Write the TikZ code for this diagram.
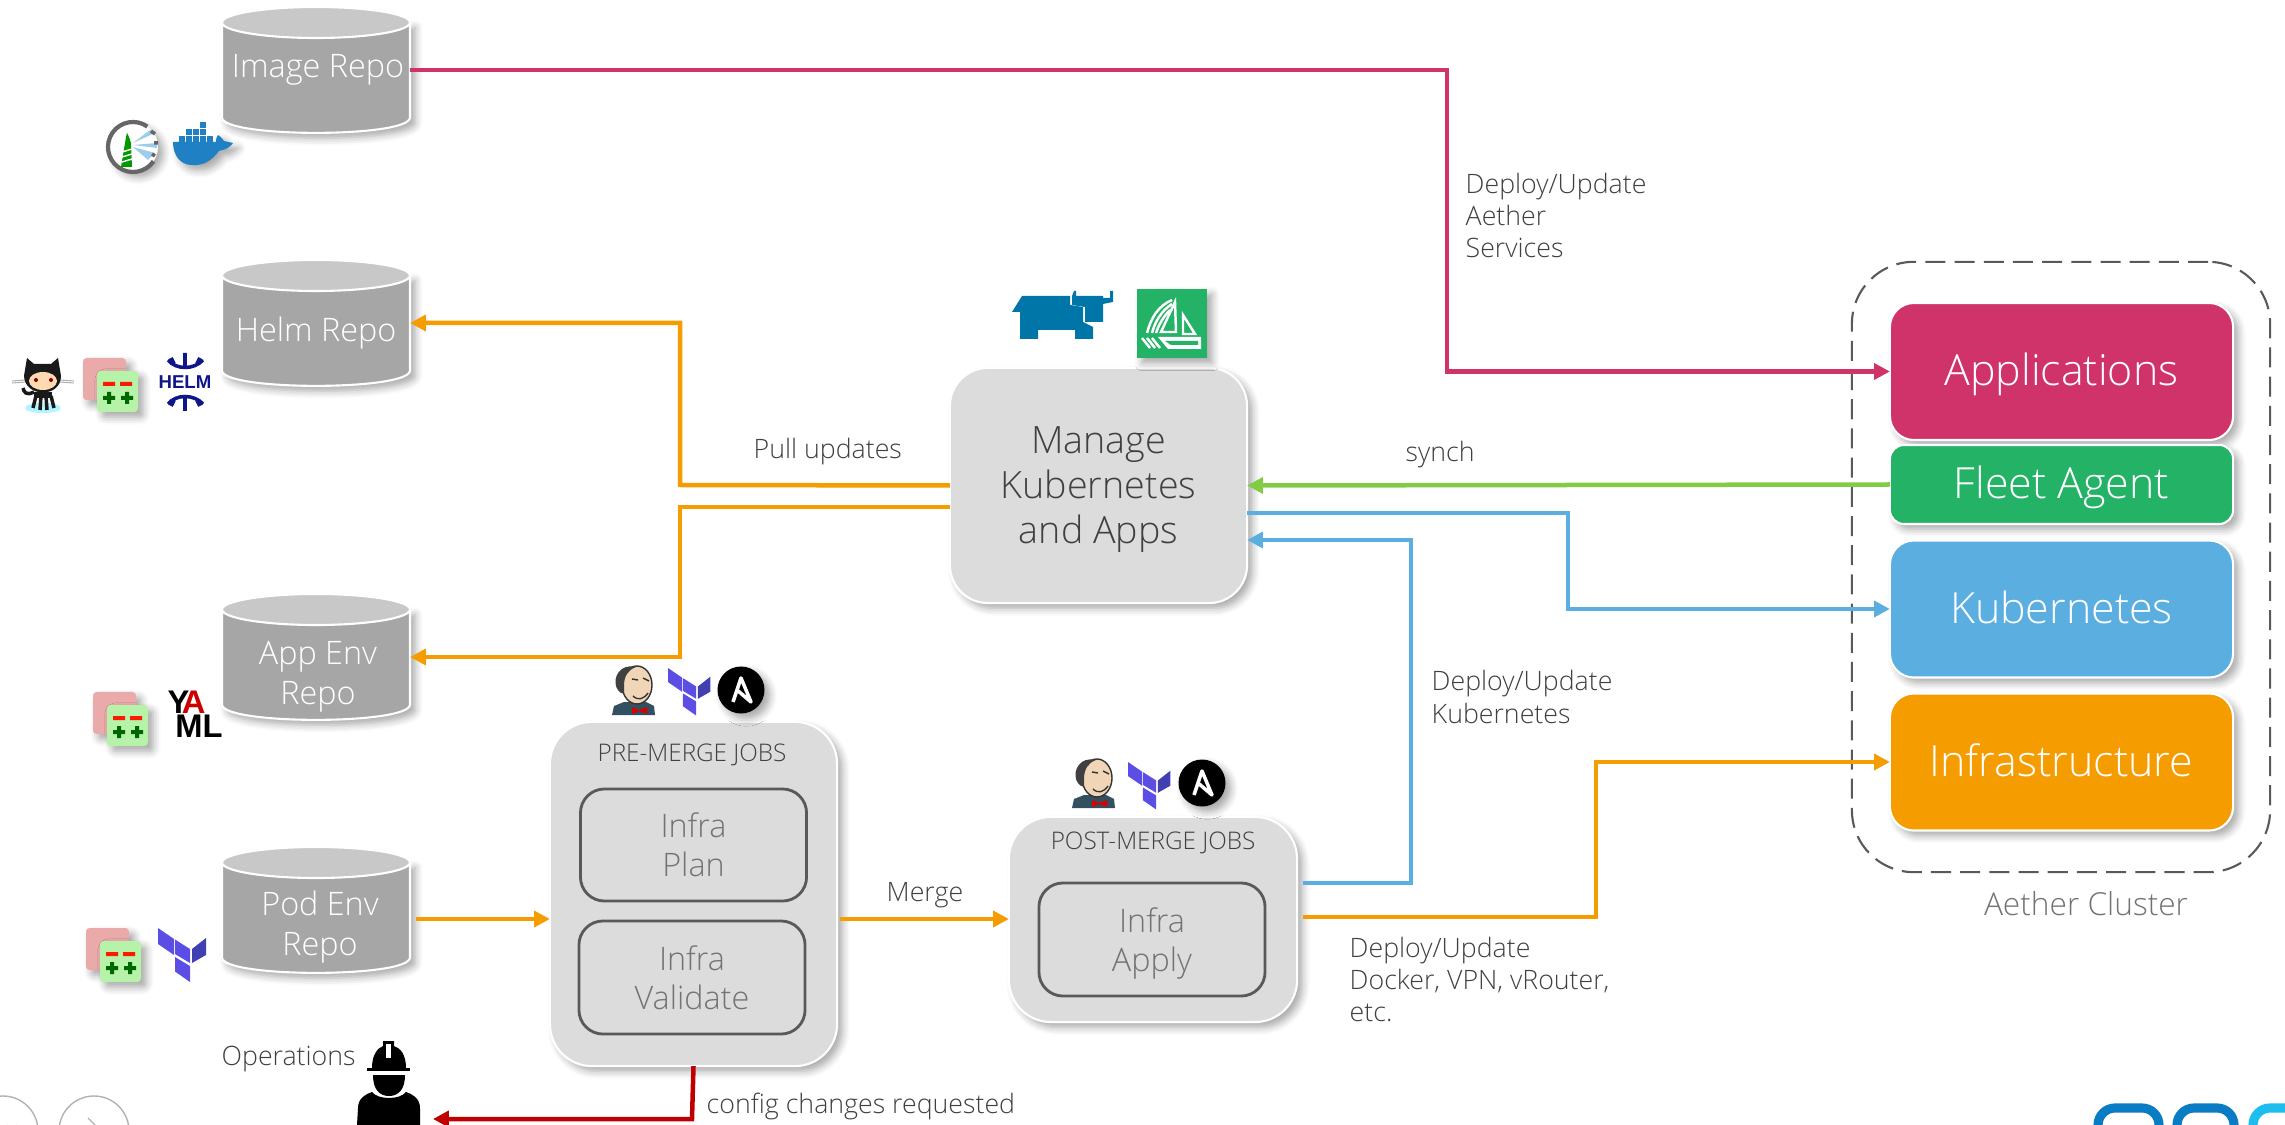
\documentclass[tikz,border=0pt]{standalone}
\usepackage{fontspec}
\setmainfont{Open Sans}[UprightFont=* Light,BoldFont=* Bold]
\newfontfamily\logofont{Liberation Sans}[BoldFont=* Bold]
\usetikzlibrary{arrows.meta,positioning,shadows,shadows.blur,calc}
\definecolor{pinkline}{HTML}{D0336A}
\definecolor{fleetgreen}{HTML}{23B266}
\definecolor{synchgreen}{HTML}{82CC45}
\definecolor{kubeblue}{HTML}{5AAEE0}
\definecolor{infraorange}{HTML}{F49C00}
\definecolor{repobody}{HTML}{A6A6A6}
\definecolor{repotop}{HTML}{C8C8C8}
\definecolor{jobgray}{HTML}{DCDCDC}
\definecolor{innerline}{HTML}{595959}
\definecolor{labelgray}{HTML}{404040}
\definecolor{opsred}{HTML}{C00000}
\definecolor{tfviolet}{HTML}{5C4EE5}
\definecolor{tfdark}{HTML}{4040B2}
\definecolor{navyhelm}{HTML}{0F1689}
\definecolor{rancherblue}{HTML}{0075A8}
\definecolor{dockerblue}{HTML}{1F80C4}
\definecolor{diffpink}{HTML}{EBAAAA}
\definecolor{diffgreen}{HTML}{B6F2A8}
\definecolor{jenkinsskin}{HTML}{F0D6B7}
\definecolor{jenkinsdark}{HTML}{335061}
\definecolor{onfblue}{HTML}{0A7CC4}
\definecolor{onfcyan}{HTML}{1DBDF0}

\begin{document}
\begin{tikzpicture}[
    x=0.01cm, y=-0.01cm,
    softshadow/.style={blur shadow={shadow xshift=1.5pt,shadow yshift=-1.5pt,shadow blur steps=5,shadow opacity=35}},
    repobox/.style={
        rectangle, minimum width=1.88cm, minimum height=1.27cm, inner sep=0pt, outer sep=0pt
    },
    repotext/.style={text=white, align=center, font=\fontsize{9.2}{11.5}\selectfont},
    jobbox/.style={
        rectangle, draw=white, fill=jobgray, line width=0.6pt, rounded corners=0.42cm,
        inner sep=0pt, outer sep=0pt, softshadow
    },
    innerbox/.style={
        rectangle, draw=innerline, line width=0.8pt, rounded corners=0.24cm,
        minimum width=2.26cm, minimum height=1.13cm, text=black!55, align=center,
        font=\fontsize{9.2}{11.2}\selectfont, inner sep=0pt, outer sep=0pt
    },
    layerbox/.style={
        rectangle, draw=white, line width=0.6pt, rounded corners=0.24cm, text=white,
        minimum width=3.43cm, minimum height=1.37cm, inner sep=0pt, outer sep=0pt,
        text height=8pt, text depth=0pt, font=\fontsize{12.2}{14}\selectfont, softshadow
    },
    textlabel/.style={text=labelgray, align=left, inner sep=0pt, anchor=base west, font=\fontsize{7.6}{9.1}\selectfont},
    flowline/.style={line width=1.28pt, -{Triangle[length=4.5pt,width=4.5pt]}}
]

\useasboundingbox (0,0) rectangle (2285,1125);
\clip (0,0) rectangle (2285,1125);

\tikzset{
    repodrum/.pic={
        \draw[white, fill=repobody, line width=0.6pt, softshadow] (-94,-47.5) -- (-94,47.5) .. controls (-94,68) and (94,68) .. (94,47.5) -- (94,-47.5) -- cycle;
        \draw[white, fill=repotop, line width=0.6pt] (0,-47.5) ellipse (94 and 15.5);
    },
    diffmark/.pic={
        \fill[diffpink, softshadow, rounded corners=1pt] (0,0) rectangle (43,42);
        \fill[diffgreen, softshadow, rounded corners=1pt] (14,13) rectangle (55,54);
        \fill[red!80!orange] (20,24) rectangle (32,28) (37,24) rectangle (49,28);
        \fill[green!40!black] (20,38) rectangle (32,42) (24,34) rectangle (28,46);
        \fill[green!40!black] (38,38) rectangle (50,42) (42,34) rectangle (46,46);
    },
    terraform/.pic={
        \fill[tfviolet] (0,0) -- (16,11) -- (16,27) -- (0,16) -- cycle;
        \fill[tfviolet] (17,11.5) -- (32,21) -- (32,35) -- (17,26) -- cycle;
        \fill[tfdark] (34,21) -- (48,10) -- (48,27) -- (34,35) -- cycle;
        \fill[tfviolet] (17,29) -- (32,38) -- (32,54) -- (17,43.5) -- cycle;
    },
    ansible/.pic={
        \fill[black, softshadow] (0,0) circle (23.5);
        \draw[white, line width=1pt, line join=round] (-8,12) -- (0,-12) -- (10,12) -- (-4,0);
    },
    jenkins/.pic={
        \fill[jenkinsdark] (0,49) -- (2,40) -- (12,36) -- (34,36) -- (42,40) -- (43,49) -- cycle;
        \fill[jenkinsskin, draw=black!80, line width=0.4pt] (25,19) ellipse (15 and 19);
        \fill[black!75] (12,28) .. controls (2,26) and (0,10) .. (10,3) .. controls (14,0) and (20,0) .. (24,1) .. controls (16,4) and (12,10) .. (12,20) -- cycle;
        \fill[red!85!black] (20,41) -- (27,44) -- (35,41) -- (35,48) -- (27,45) -- (20,48) -- cycle;
        \draw[black!80, line width=0.4pt] (20,13) -- (26,14) (31,12) -- (37,15) (21,30) .. controls (26,35) and (32,33) .. (36,27);
    }
}

\node[draw=innerline, line width=0.6pt, dash pattern=on 5.7pt off 2.6pt, rounded corners=0.62cm, minimum width=4.18cm, minimum height=6.10cm, inner sep=0pt] (cluster) at (2061,567) {};
\node[layerbox, fill=pinkline] (applications) at (2061.5,371.5) {Applications};
\node[layerbox, fill=fleetgreen, minimum height=0.79cm, rounded corners=0.14cm] (fleetagent) at (2061.5,484.5) {Fleet Agent};
\node[layerbox, fill=kubeblue] (kubernetes) at (2061.5,609) {Kubernetes};
\node[layerbox, fill=infraorange] (infrastructure) at (2061.5,762) {Infrastructure};
\node[text=black!55, inner sep=0pt, anchor=base, font=\fontsize{9}{11}\selectfont] (clusterlabel) at (2086,915) {Aether Cluster};

\pic at (316,70) {repodrum};
\pic at (316,323) {repodrum};
\pic at (316,657) {repodrum};
\pic at (316,910) {repodrum};
\node[repobox] (imagerepo) at (316,70) {};
\node[repobox] (helmrepo) at (316,323) {};
\node[repobox] (appenvrepo) at (316,657) {};
\node[repobox] (podenvrepo) at (316,910) {};
\node[repotext] (imagetext) at (318,70) {Image Repo};
\node[repotext] (helmtext) at (316,333) {Helm Repo};
\node[repotext] (appenvtext) at (318,677) {App Env\\Repo};
\node[repotext] (podenvtext) at (320,927) {Pod Env\\Repo};

\node[jobbox, minimum width=2.97cm, minimum height=2.35cm, rounded corners=0.38cm, align=center, text=labelgray, text depth=0pt, font=\fontsize{10.7}{12.8}\selectfont] (manage) at (1098.5,485.5) {Manage\\Kubernetes\\and Apps};
\node[jobbox, minimum width=2.87cm, minimum height=3.44cm] (premerge) at (693.5,894) {};
\node[jobbox, minimum width=2.88cm, minimum height=2.05cm] (postmerge) at (1153,919.5) {};
\node[text=labelgray, inner sep=0pt, font=\fontsize{6.9}{8}\selectfont] (prelabel) at (692,755) {PRE-MERGE JOBS};
\node[text=labelgray, inner sep=0pt, font=\fontsize{6.9}{8}\selectfont] (postlabel) at (1153,843) {POST-MERGE JOBS};
\node[innerbox, minimum height=1.12cm] (infraplan) at (693.5,845) {Infra\\Plan};
\node[innerbox] (infravalidate) at (692,977.5) {Infra\\Validate};
\node[innerbox, text depth=0pt] (infraapply) at (1152,939.5) {Infra\\Apply};

\node[textlabel] (deployapps) at (1465,258) {Deploy/Update\\Aether\\Services};
\node[textlabel] (pullupdates) at (753,459) {Pull updates};
\node[textlabel] (synchlabel) at (1405,462) {synch};
\node[textlabel] (deploykube) at (1431,723) {Deploy/Update\\Kubernetes};
\node[textlabel] (deployinfra) at (1349,1021) {Deploy/Update\\Docker, VPN, vRouter,\\etc.};
\node[textlabel] (mergelabel) at (886,901) {Merge};
\node[textlabel] (configlabel) at (706,1113) {config changes requested};
\node[textlabel] (opslabel) at (221,1065) {Operations};

\coordinate (imageturn) at (1447,70);
\coordinate (pullturn) at (680,485);
\coordinate (envturn) at (680,507);
\coordinate (podlevel) at (416,919);
\coordinate (kubelevel) at (1411,883);
\coordinate (kubeup) at (1411,540);
\coordinate (kubeturn) at (1568,513);
\coordinate (infralevel) at (1596,917);
\coordinate (opsturn) at (692,1119);
\coordinate (opsend) at (433,1119);

\draw[flowline, pinkline] (imagerepo.east) -- (imageturn) |- (applications.west);
\draw[flowline, infraorange] (manage.west) -- (pullturn) |- (helmrepo.east);
\draw[flowline, infraorange] (manage.west |- envturn) -- (envturn) |- (appenvrepo.east);
\draw[flowline, infraorange] (podlevel) -- (premerge.west |- podlevel);
\draw[flowline, infraorange, shorten <=0.8pt] (premerge.east |- podlevel) -- (postmerge.west |- podlevel);
\draw[flowline, synchgreen] (fleetagent.west) -- (manage.east);
\draw[flowline, kubeblue] (manage.east |- kubeturn) -- (kubeturn) |- (kubernetes.west);
\draw[flowline, kubeblue, shorten <=1.7pt] (postmerge.east |- kubelevel) -- (kubelevel) -- (kubeup) -- (manage.east |- kubeup);
\draw[flowline, infraorange, shorten <=1.7pt] (postmerge.east |- infralevel) -- (infralevel) |- (infrastructure.west);
\draw[flowline, opsred] (premerge.south) -- (opsturn) -- (opsend);

\pic at (83,358) {diffmark};
\pic at (93,692) {diffmark};
\pic at (86,928) {diffmark};
\pic at (158,928) {terraform};
\pic[scale=.88] at (668,668) {terraform};
\pic[scale=.88] at (1128,762) {terraform};
\pic at (741,690) {ansible};
\pic at (1202,783) {ansible};
\pic at (612,666) {jenkins};
\pic at (1072,759) {jenkins};

% harbor and docker
\fill[white, softshadow] (133,147) circle (25);
\draw[black!60, line width=1.2pt] (133,147) ++(35:25) arc (35:305:25);
\fill[green!60!black] (125,143) -- (126,137) -- (127,133) -- (129,137) -- (131,143) -- (132,167) -- (121,167) -- cycle;
\draw[white, line width=0.4pt] (122,152) -- (132,149) (122,157) -- (132,154) (122,162) -- (132,159);
\fill[kubeblue!60] (133,143) -- (150,130) -- (155,133) -- cycle (133,145) -- (157,143) -- (157,148) -- cycle (133,147) -- (155,153) -- (148,160) -- cycle;
\draw[black!60, line width=1pt] (151,131) -- (155,134) (154,143) -- (158,143) (152,154) -- (155,156);
\fill[dockerblue, softshadow] (173,142) -- (216,142) .. controls (216,138) and (217,136) .. (218,135) .. controls (221,137) and (223,139) .. (224,141) -- (233,143) .. controls (228,150) and (222,150) .. (219,151) .. controls (212,160) and (204,166) .. (192,165) .. controls (180,165) and (173,155) .. (173,142) -- cycle;
\foreach \col in {0,1,2,3,4} \fill[dockerblue] (179+7*\col,136) rectangle +(6,6);
\foreach \col in {0,1,2} \fill[dockerblue] (186+7*\col,129) rectangle +(6,6);
\fill[dockerblue] (200,122) rectangle +(6,6);

% github and helm
\fill[blue!15!cyan!30] (43,408) ellipse (18 and 5);
\draw[black!30, line width=0.3pt] (12,383) -- (26,382) (12,381) -- (26,380) (60,380) -- (74,381) (60,382) -- (74,383);
\fill[black!90] (27,358) -- (34,364) -- (51,364) -- (58,358) -- (61,376) .. controls (61,398) and (25,398) .. (24,376) -- cycle;
\fill[orange!30!white] (43,381) ellipse (14 and 9);
\fill[black!90] (34,392) rectangle (52,398);
\draw[black!90, line width=1pt] (36,396) -- (33,408) (41,396) -- (40,410) (46,396) -- (47,410) (51,396) -- (54,408) (34,392) .. controls (26,396) and (24,392) .. (23,388);
\fill[red!50!black] (36,380) circle (2) (51,380) circle (2);
\node[text=navyhelm, inner sep=0pt, font=\logofont\bfseries\fontsize{5.3}{6}\selectfont] (helmlogo) at (185,382) {HELM};
\draw[navyhelm, line width=1pt] (168,360) .. controls (176,370) and (194,370) .. (203,360);
\draw[navyhelm, line width=1pt] (168,404) .. controls (176,394) and (194,394) .. (203,404);
\draw[navyhelm, line width=1.1pt] (185,353) -- (185,366) (171,358) -- (174,364) (200,358) -- (197,364) (185,411) -- (185,398) (171,406) -- (174,400) (200,406) -- (197,400);

% yaml
\node[inner sep=0pt, anchor=base west, align=left, font=\logofont\bfseries\fontsize{9.3}{6.8}\selectfont] (yamllogo) at (167,737) {Y\kern-2.2pt\textcolor{red!80!black}{A}\\\hspace*{2.2pt}ML};

% rancher and fleet
\fill[rancherblue] (1012,312) -- (1022,296) -- (1070,296) -- (1070,305) -- (1083,307) -- (1083,322) -- (1093,327) -- (1093,339) -- (1075,339) -- (1075,330) -- (1038,330) -- (1038,339) -- (1020,339) -- (1020,312) -- cycle;
\fill[rancherblue] (1072,296) -- (1074,291) -- (1076,291) -- (1076,296) -- (1103,296) -- (1103,298) -- (1110,298) -- (1110,291) -- (1113,291) -- (1113,302) -- (1103,304) -- (1103,322) -- (1085,322) -- (1085,307) -- (1072,305) -- cycle;
\fill[fleetgreen, softshadow] (1137,289) rectangle (1207,358);
\draw[white, line width=0.7pt, line join=miter] (1175,302) -- (1176,332) -- (1161,332) -- cycle (1183,315) -- (1195,334) -- (1183,334) -- cycle;
\draw[white, line width=0.7pt] (1147,333) .. controls (1151,318) and (1158,306) .. (1172,300) (1152,333) .. controls (1155,322) and (1161,311) .. (1172,304) (1156,333) .. controls (1159,324) and (1164,316) .. (1170,310);
\fill[white] (1158,337) -- (1201,337) -- (1201,349) -- (1168,349) -- cycle;
\fill[fleetgreen] (1165,341) -- (1198,341) -- (1198,345) -- (1171,345) -- cycle;
\draw[white, line width=0.7pt] (1142,338) -- (1150,348) (1147,338) -- (1155,348) (1152,338) -- (1160,348);

% operations
\fill[black] (367,1068) rectangle (410,1071);
\fill[black] (372,1068) .. controls (372,1054) and (378,1048) .. (383,1046) -- (383,1041) -- (394,1041) -- (394,1046) .. controls (400,1048) and (406,1054) .. (406,1068) -- cycle;
\fill[white] (386,1044) rectangle (391,1058);
\fill[black] (373,1075) -- (405,1075) .. controls (405,1090) and (398,1096) .. (389,1096) .. controls (380,1096) and (373,1090) .. (373,1075) -- cycle;
\fill[black] (357,1125) -- (358,1108) .. controls (358,1098) and (366,1094) .. (372,1092) .. controls (378,1100) and (400,1100) .. (406,1092) .. controls (412,1094) and (420,1098) .. (420,1108) -- (420,1125) -- cycle;

% footer
\draw[black!30, line width=0.4pt] (3,1131) circle (35) (94,1131) circle (35);
\draw[black!30, line width=0.4pt] (7,1125) arc (180:0:5);
\draw[black!30, line width=0.4pt] (88,1118) -- (97,1127);
\draw[onfblue, line width=2.6pt, rounded corners=0.17cm] (2098,1135) -- (2098,1108) -- (2159,1108) -- (2159,1135);
\draw[onfblue, line width=2.6pt, rounded corners=0.17cm] (2177,1135) -- (2177,1108) -- (2234,1108) -- (2234,1135);
\draw[onfcyan, line width=2.6pt, rounded corners=0.17cm] (2253,1135) -- (2253,1108) -- (2300,1108);

\end{tikzpicture}
\end{document}
